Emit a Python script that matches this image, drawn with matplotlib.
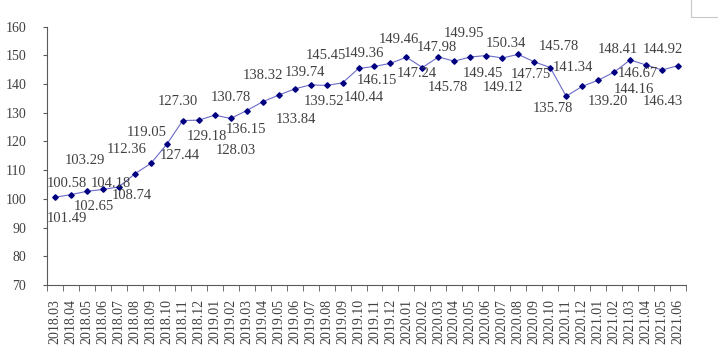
import matplotlib
matplotlib.use("Agg")
import matplotlib.pyplot as plt
from matplotlib.patches import Rectangle

# months 2018.03 - 2021.06
months = ["2018.03", "2018.04", "2018.05", "2018.06", "2018.07", "2018.08", "2018.09",
          "2018.10", "2018.11", "2018.12", "2019.01", "2019.02", "2019.03", "2019.04",
          "2019.05", "2019.06", "2019.07", "2019.08", "2019.09", "2019.10", "2019.11",
          "2019.12", "2020.01", "2020.02", "2020.03", "2020.04", "2020.05", "2020.06",
          "2020.07", "2020.08", "2020.09", "2020.10", "2020.11", "2020.12", "2021.01",
          "2021.02", "2021.03", "2021.04", "2021.05", "2021.06"]
values = [100.58, 101.49, 102.65, 103.29, 104.18, 108.74, 112.36, 119.05, 127.30, 127.44,
          129.18, 128.03, 130.78, 133.84, 136.15, 138.32, 139.74, 139.52, 140.44, 145.45,
          146.15, 147.24, 149.36, 145.78, 149.46, 147.98, 149.45, 149.95, 149.12, 150.34,
          147.75, 145.78, 135.78, 139.20, 141.34, 144.16, 148.41, 146.67, 144.92, 146.43]
y_ticks = [70, 80, 90, 100, 110, 120, 130, 140, 150, 160]

# where each value label sits relative to its point (pixels)
label_offsets = [(12, 14), (-4, -24), (7, -15), (-18, 29), (-8, 3), (-3, -22), (-24, 14),
                 (-20, 12), (-5, 19), (-19, -35), (-8, -21), (5, -32), (-16, 13), (33, -18),
                 (-33, -34), (-32, 13), (-6, 12), (-3, -16), (21, -15), (-33, 13), (2, -14),
                 (26, -10), (-43, 4), (25, -20), (-40, 17), (-18, 14), (13, -17), (-22, 22),
                 (1, -30), (-12, 11), (-3, -13), (9, 21), (-13, -12), (26, -15), (-25, 13),
                 (20, -17), (-12, 10), (-8, -9), (1, 20), (-15, -36)]

plt.rcParams['font.family'] = ['Liberation Serif', 'DejaVu Serif']

fig = plt.figure(figsize=(7.18, 3.58), dpi=100)
ax = fig.add_axes([47 / 718, 1 - 285 / 358, 639 / 718, (285 - 26.7) / 358])

x = list(range(len(values)))
ax.plot(x, values, color='#6b6bc8', linewidth=0.8,
        marker='D', markersize=2.8, markerfacecolor='#000080', markeredgecolor='#000080')

for i, v in enumerate(values):
    ax.annotate(f"{v:.2f}", (i, v), xytext=label_offsets[i], textcoords='offset pixels',
                ha='center', va='center', fontsize=10.5, color='#404040')

ax.set_xlim(-0.5, len(values) - 0.5)
ax.set_ylim(70, 160)
ax.set_yticks(y_ticks)
ax.set_xticks(x)
ax.set_xticklabels(months, rotation=90, fontsize=10, color='#404040')
ax.set_xticks([i - 0.5 for i in range(len(values) + 1)], minor=True)
ax.tick_params(axis='x', which='major', length=0, pad=10)
ax.tick_params(axis='x', which='minor', length=4, direction='out', color='#595959')
ax.tick_params(axis='y', length=3, direction='out', labelsize=10, labelcolor='#404040',
               color='#595959', pad=12)

for s in ['top', 'right']:
    ax.spines[s].set_visible(False)
for s in ['left', 'bottom']:
    ax.spines[s].set_color('#595959')
    ax.spines[s].set_linewidth(0.8)

# edge of a box cut off at the top right
fig.patches.append(Rectangle((691 / 718, 1 - 16.7 / 358), 0.1, 0.1, transform=fig.transFigure,
                             fill=False, edgecolor='#c8c8c8', linewidth=0.8))

fig.savefig("out.png", dpi=100)
